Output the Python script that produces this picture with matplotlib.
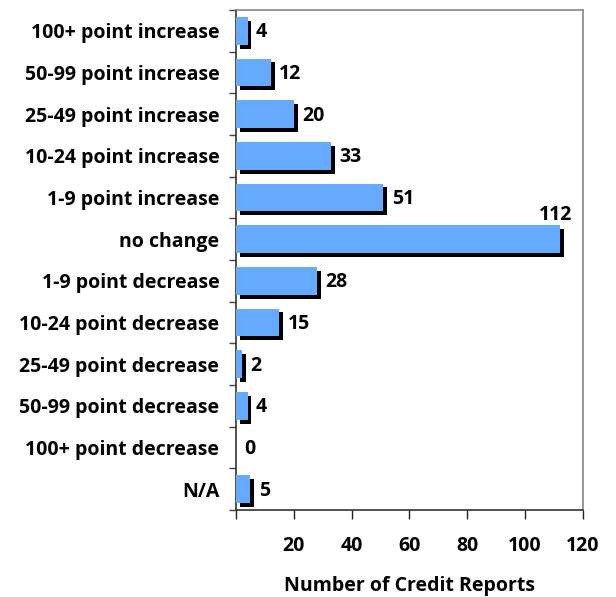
import matplotlib
matplotlib.use("Agg")
import matplotlib.pyplot as plt
import matplotlib.patheffects as pe
import numpy as np

categories = [
    "100+ point increase",
    "50-99 point increase",
    "25-49 point increase",
    "10-24 point increase",
    "1-9 point increase",
    "no change",
    "1-9 point decrease",
    "10-24 point decrease",
    "25-49 point decrease",
    "50-99 point decrease",
    "100+ point decrease",
    "N/A",
]
counts = [4, 12, 20, 33, 51, 112, 28, 15, 2, 4, 0, 5]
x_ticks = [0, 20, 40, 60, 80, 100, 120]
x_tick_labels = ["", "20", "40", "60", "80", "100", "120"]
x_title = "Number of Credit Reports"

FONT = "Open Sans"
BAR = "#66aaff"
FS = 14

fig = plt.figure(figsize=(6.16, 5.97), dpi=100)
ax = fig.add_axes([0.3831, 0.1457, 0.5633, 0.8376])

y = np.arange(len(categories))
bars = ax.barh(y, counts, height=0.67, color=BAR, edgecolor="none", zorder=3)
for b in bars:
    b.set_path_effects([
        pe.SimplePatchShadow(offset=(2.8, -2.8), shadow_rgbFace="black", alpha=1.0),
        pe.Normal(),
    ])

# value labels
for yi, v in zip(y, counts):
    if v == max(counts):
        ax.annotate(str(v), (v, yi), xytext=(9, 10), textcoords="offset points",
                    ha="right", va="bottom", fontsize=FS, fontweight="bold",
                    family=FONT, color="black")
    else:
        ax.annotate(str(v), (v, yi), xytext=(6, -1), textcoords="offset points",
                    ha="left", va="center", fontsize=FS, fontweight="bold",
                    family=FONT, color="black")

ax.set_xlim(0, 120)
ax.set_ylim(len(categories) - 0.5, -0.5)

ax.set_yticks(y)
ax.set_yticklabels(categories, fontsize=FS, fontweight="bold", family=FONT)
ax.set_yticks(np.arange(-0.5, len(categories), 1.0), minor=True)
ax.tick_params(axis="y", which="major", length=0, pad=12)
ax.tick_params(axis="y", which="minor", length=5, width=1, color="#444444", direction="out")

ax.set_xticks(x_ticks)
ax.set_xticklabels(x_tick_labels, fontsize=FS, fontweight="bold", family=FONT)
ax.tick_params(axis="x", which="major", length=6.5, width=1, color="#222222",
               direction="out", pad=12)
ax.set_xlabel(x_title, fontsize=FS, fontweight="bold", family=FONT, labelpad=14.5)

for side in ("left", "bottom"):
    ax.spines[side].set_color("#333333")
    ax.spines[side].set_linewidth(1.2)
for side in ("top", "right"):
    ax.spines[side].set_color("#888888")
    ax.spines[side].set_linewidth(1.2)

fig.savefig("out.png", dpi=100)
